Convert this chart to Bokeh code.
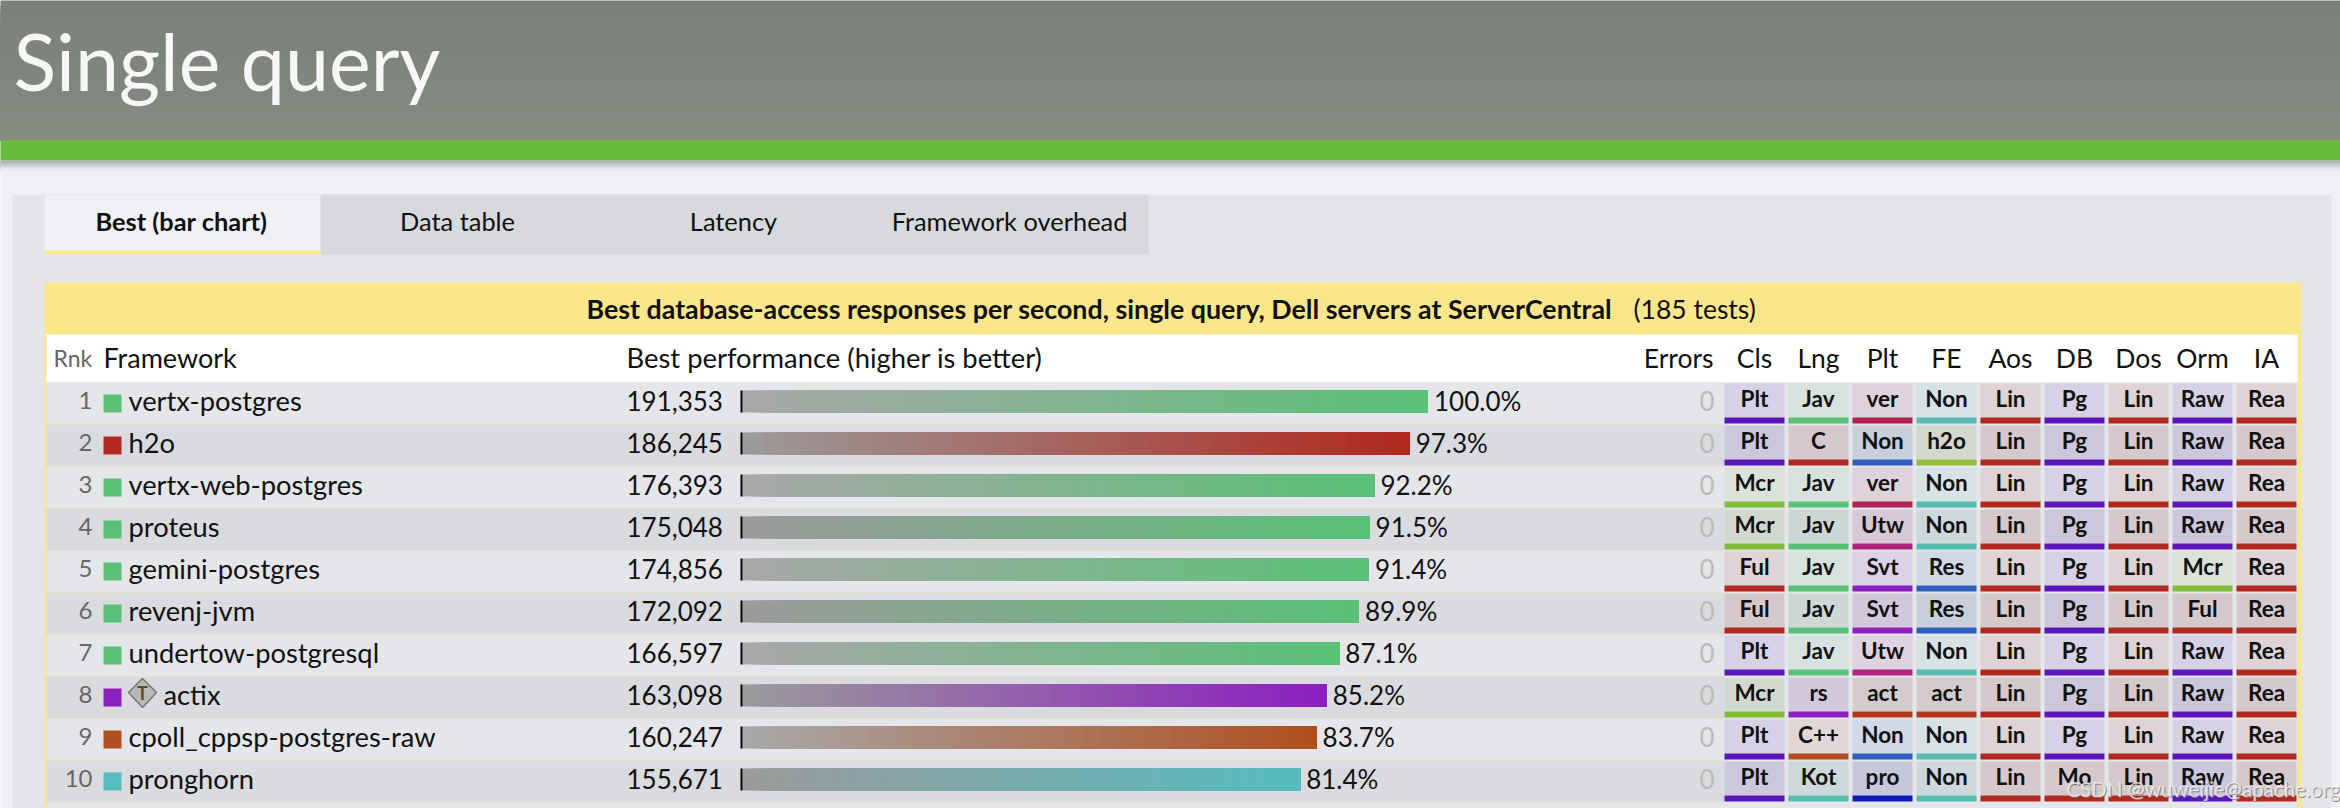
from bokeh.plotting import figure
from bokeh.models import Range1d, ColumnDataSource
from bokeh.embed import file_html
from bokeh.resources import INLINE
from bokeh.core.properties import value
import numpy as np

# ---------- data ----------
ranks = [1, 2, 3, 4, 5, 6, 7, 8, 9, 10]
frameworks = ["vertx-postgres", "h2o", "vertx-web-postgres", "proteus", "gemini-postgres",
              "revenj-jvm", "undertow-postgresql", "actix", "cpoll_cppsp-postgres-raw", "pronghorn"]
rps = [191353, 186245, 176393, 175048, 174856, 172092, 166597, 163098, 160247, 155671]
errors = [0, 0, 0, 0, 0, 0, 0, 0, 0, 0]
lang_colors = ["#5ac077", "#b0281e", "#5ac077", "#5ac077", "#5ac077",
               "#5ac077", "#5ac077", "#8b1fbf", "#b04f20", "#56bcbf"]
col_heads = ["Cls", "Lng", "Plt", "FE", "Aos", "DB", "Dos", "Orm", "IA"]
cls = ["Plt", "Plt", "Mcr", "Mcr", "Ful", "Ful", "Plt", "Mcr", "Plt", "Plt"]
lng = ["Jav", "C", "Jav", "Jav", "Jav", "Jav", "Jav", "rs", "C++", "Kot"]
plt_ = ["ver", "Non", "ver", "Utw", "Svt", "Svt", "Utw", "act", "Non", "pro"]
fe = ["Non", "h2o", "Non", "Non", "Res", "Res", "Non", "act", "Non", "Non"]
aos = ["Lin"] * 10
db = ["Pg"] * 9 + ["Mo"]
dos = ["Lin"] * 10
orm = ["Raw", "Raw", "Raw", "Raw", "Mcr", "Ful", "Raw", "Raw", "Raw", "Raw"]
ia = ["Rea"] * 10
tabs = ["Best (bar chart)", "Data table", "Latency", "Framework overhead"]

# ---------- styles ----------
FONT = "Lato"
PURPLE, RED, GREEN, LIME = "#5b15b8", "#b0281e", "#5ac077", "#82bc3a"
TEAL, BLUE = "#56bcb0", "#2a5fbb"
tile_colors = {
    "Plt": PURPLE, "Mcr": LIME, "Ful": RED, "Jav": GREEN, "C": RED, "rs": "#8b1fbf", "C++": "#b04f20",
    "Kot": TEAL, "ver": "#b02350", "Utw": "#b0247f", "Svt": "#8b1fbf", "act": "#b03a20", "pro": "#0b1cb8",
    "h2o": "#90bc3a", "Res": BLUE, "Lin": RED, "Pg": PURPLE, "Mo": RED, "Raw": PURPLE, "Rea": RED,
}
LIGHT, DARK = (229, 230, 234), (218, 219, 223)


def rgb(h):
    return tuple(int(h[i:i + 2], 16) for i in (1, 3, 5))


def mix(a, b, t):
    return "#%02x%02x%02x" % tuple(int(round(a[i] + (b[i] - a[i]) * t)) for i in range(3))


W, H = 2340, 808
p = figure(width=W, height=H, output_backend="svg", toolbar_location=None,
           x_range=Range1d(0, W), y_range=Range1d(H, 0),
           min_border=0, outline_line_color=None, background_fill_color="#f0f1f5",
           border_fill_color="#f0f1f5")
p.axis.visible = False
p.grid.visible = False

# value and rank scales share the canvas with the page chrome
BAR0, BAR_LEN, ROW_H, ROW0 = 742, 685.5, 42, 382
vmax = max(rps)
p.extra_x_ranges["rps"] = Range1d(-BAR0 * vmax / BAR_LEN, (W - BAR0) * vmax / BAR_LEN)
rank_at = lambda y: (y - ROW0 - ROW_H / 2) / ROW_H + 1
p.extra_y_ranges["rank"] = Range1d(rank_at(H), rank_at(0))


def box(l, r, t, b, c, **kw):
    p.quad(left=l, right=r, top=t, bottom=b, fill_color=c, line_color=None, **kw)


def label(x, y, s, size, color="#111111", align="left", bold=False, font=FONT, **kw):
    p.text(x=[x], y=[y], text=[s], text_font=value(font), text_font_size=f"{size}px",
           text_color=color, text_align=align, text_baseline="middle",
           text_font_style="bold" if bold else "normal", **kw)


# page header (bands overlap downwards, so no seams appear between them)
edges = np.linspace(0, 140, 29)
edges[0] = -6
cols = [mix((122, 128, 122), (133, 139, 129), t) for t in np.linspace(0, 1, 28)]
p.quad(left=-6, right=W + 6, top=edges[:-1], bottom=140, fill_color=cols, line_color=None)
box(-6, W + 6, 140, 160, "#66bd39")
edges = np.linspace(160, 170, 11)
cols = [mix((170, 171, 175), (240, 241, 245), t) for t in np.linspace(0, 1, 10)]
p.quad(left=-6, right=W + 6, top=edges[:-1], bottom=170, fill_color=cols, line_color=None)
label(13, 60, "Single query", 79, color="#f6f7f6")

# panel and tabs
box(12, 2331, 194, 814, "#e4e5e9")
box(44, 1148, 194, 254, "#d8d9dd")
box(44, 320, 194, 254, "#f0f1f5")
box(44, 320, 250, 254, "#fae78b")
for i, t in enumerate(tabs):
    label(181 + 276 * i, 220, t, 25.4, align="center", bold=i == 0)

# table frame
box(44, 2301, 282, 814, "#fae78b")
box(46, 2297, 334, 382, "#ffffff")
label(586, 308, "Best database-access responses per second, single query, Dell servers at ServerCentral",
      26.8, bold=True)
label(1633, 308, "(185 tests)", 26.5)

label(53, 357, "Rnk", 23, color="#666666")
label(103, 357, "Framework", 27)
label(626, 357, "Best performance (higher is better)", 27.4)
label(1713, 357, "Errors", 26.5, align="right")
for i, h in enumerate(col_heads):
    label(1754 + 64 * i, 357, h, 26.5, align="center")

# rows
r = np.array(ranks, dtype=float)
row_rgb = [LIGHT if k % 2 else DARK for k in ranks]
p.quad(left=46, right=2297, top=r - 0.5, bottom=r + 0.5, y_range_name="rank",
       fill_color=[mix(c, c, 0) for c in row_rgb], line_color=None)
box(1724, 2297, 382, 814, "#e5e6ea")
box(46, 1724, 802, 814, "#e5e6ea")

# swatches, ranks, names
p.quad(left=103, right=121, top=r - 9 / ROW_H, bottom=r + 9 / ROW_H, y_range_name="rank",
       fill_color=lang_colors, line_color=None)
ty = r - 3 / ROW_H
rows = ColumnDataSource(dict(r=ty, rank=[str(k) for k in ranks], rps=rps,
                             n=[f"{v:,}" for v in rps],
                             pct=[f"{v / vmax * 100:.1f}%" for v in rps],
                             err=[str(e) for e in errors]))
txt = dict(source=rows, y_range_name="rank", text_font=value(FONT), text_baseline="middle")
p.text(x=92, y="r", text="rank", text_font_size="24px", text_color="#666666", text_align="right", **txt)
p.text(x=626, y="r", text="n", text_font_size="26px", text_color="#111111", **txt)
p.text(x="rps", y="r", text="pct", x_range_name="rps", x_offset=6, text_font_size="26px",
       text_color="#111111", **txt)
p.text(x=1714, y="r", text="err", text_font_size="26px", text_color="#bbbbbb", text_align="right", **txt)
name_x = [128 if f != "actix" else 163 for f in frameworks]
p.text(x=name_x, y=ty, text=frameworks, y_range_name="rank", text_font=value(FONT), text_baseline="middle",
       text_font_size="27.3px", text_color="#111111")

# actix marker
p.patch(x=[142, 156, 142, 128], y=[678, 692, 707, 692], fill_color="#b9b9b9", line_color="#777777", line_width=1.5)
label(142, 692, "T", 18, color="#5c4a1f", align="center", bold=True)

# gradient bars: each bar runs from 0 to its value in colour steps painted over one another
STEPS = 64
for k, v, c, base in zip(r, rps, lang_colors, row_rgb):
    e = np.linspace(0, v, STEPS + 1)
    start = (168, 168, 168) if base is LIGHT else (155, 155, 155)
    cs = [mix(start, rgb(c), t) for t in np.linspace(0, 1, STEPS)]
    p.quad(left=e[:-1], right=v, top=k - 13 / ROW_H, bottom=k + 9 / ROW_H,
           x_range_name="rps", y_range_name="rank", fill_color=cs, line_color=None)
p.quad(left=740, right=742, top=r - 13 / ROW_H, bottom=r + 9 / ROW_H, y_range_name="rank",
       fill_color="#000000", line_color=None)

# attribute tiles
columns = [cls, lng, plt_, fe, aos, db, dos, orm, ia]
for i, col in enumerate(columns):
    strip = [BLUE if (lbl == "Non" and i == 2) else TEAL if lbl == "Non" else tile_colors[lbl] for lbl in col]
    bg = [mix(b, rgb(s), 0.10) for b, s in zip(row_rgb, strip)]
    x0 = 1724 + 64 * i
    p.quad(left=x0, right=x0 + 60, top=r - 20 / ROW_H, bottom=r + 14 / ROW_H, y_range_name="rank",
           fill_color=bg, line_color=None)
    p.quad(left=x0, right=x0 + 60, top=r + 14 / ROW_H, bottom=r + 20 / ROW_H, y_range_name="rank",
           fill_color=strip, line_color=None)
    p.text(x=x0 + 30, y=r - 5 / ROW_H, text=col, y_range_name="rank", text_font=value(FONT),
           text_font_size="22.5px", text_font_style="bold", text_align="center", text_baseline="middle",
           text_color="#111111")

# watermark
wm = "CSDN @wuweijie@apache.org"
label(2067, 789, wm, 20.5, color="#777777", text_alpha=0.8)
label(2066, 788, wm, 20.5, color="#eeeeee", text_alpha=0.85)

open("out.html", "w").write(file_html(p, INLINE))
